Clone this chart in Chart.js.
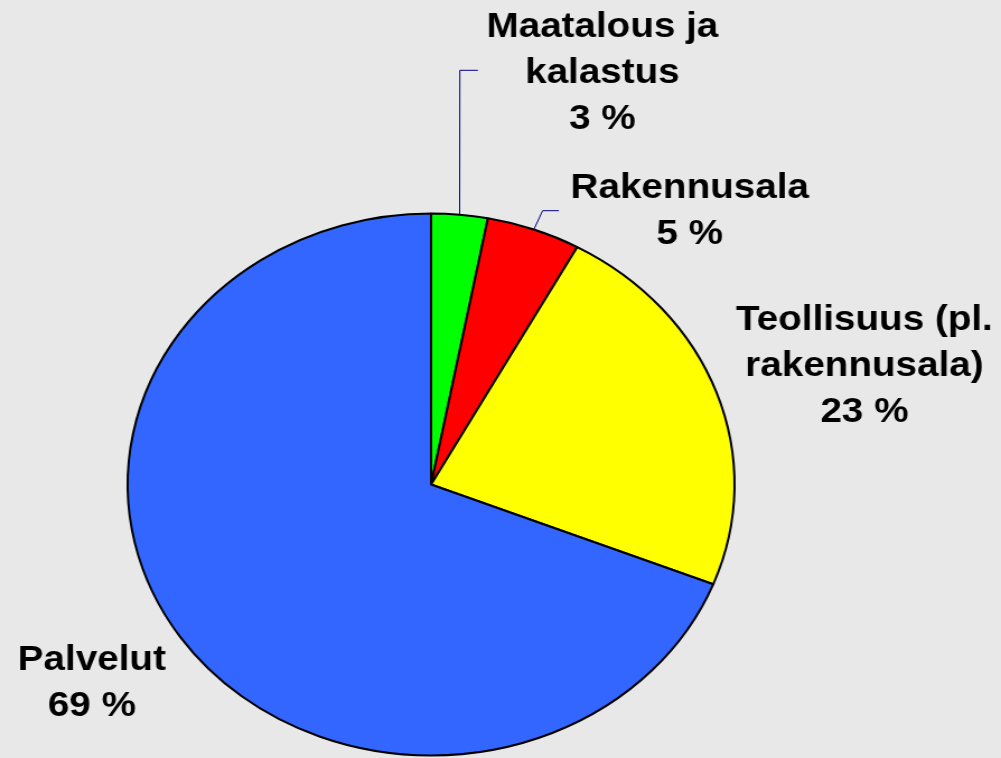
<!DOCTYPE html>
<html>
<head>
<meta charset="utf-8">
<script src="https://cdn.jsdelivr.net/npm/chart.js@4.4.0/dist/chart.umd.min.js"></script>
<style>
html, body { margin: 0; padding: 0; background: #e8e8e8; overflow: hidden; }
#wrap { width: 894px; height: 758px; transform: scaleX(1.1197); transform-origin: 0 0; }
</style>
</head>
<body>
<div id="wrap"><canvas id="pieChart" width="894" height="758"></canvas></div>
<script>
// data
var sectorNames = [["Maatalous ja", "kalastus"], ["Rakennusala"], ["Teollisuus (pl.", "rakennusala)"], ["Palvelut"]];
var sectorShares = [3, 5, 23, 69];
var sectorColors = ['#00ff00', '#ff0000', '#ffff00', '#3366ff'];

// where the labels go (canvas is stretched sideways afterwards)
var labelSpots = [
    { x: 538, y: 27, elbow: [410.7, 70.3, 426.8] },
    { x: 616, y: 188, elbow: [484.6, 210.7, 499.1] },
    { x: 772, y: 320 },
    { x: 82, y: 660 }
];

var labelPlugin = {
    id: 'sectorLabels',
    afterDatasetsDraw: function (chart) {
        var ctx = chart.ctx;
        var arcs = chart.getDatasetMeta(0).data;
        ctx.save();
        arcs.forEach(function (arc, i) {
            var spot = labelSpots[i];
            if (spot.elbow) {
                //leader line from the middle of the slice edge
                var mid = (arc.startAngle + arc.endAngle) / 2;
                var sx = arc.x + Math.cos(mid) * arc.outerRadius;
                var sy = arc.y + Math.sin(mid) * arc.outerRadius;
                ctx.beginPath();
                ctx.moveTo(sx, sy);
                ctx.lineTo(spot.elbow[0], spot.elbow[1]);
                ctx.lineTo(spot.elbow[2], spot.elbow[1]);
                ctx.strokeStyle = '#000080';
                ctx.lineWidth = 1;
                ctx.stroke();
            }
            var lines = sectorNames[i].concat([sectorShares[i] + ' %']);
            ctx.font = 'bold 34.5px "Liberation Sans", Arial, sans-serif';
            ctx.fillStyle = '#000000';
            ctx.textAlign = 'center';
            ctx.textBaseline = 'middle';
            lines.forEach(function (t, k) {
                ctx.fillText(t, spot.x, spot.y + k * 46);
            });
        });
        ctx.restore();
    }
};

const ctx = document.getElementById("pieChart");
var sectorChart = new Chart(ctx, {
    type: 'pie',
    data: {
        labels: sectorNames.map(function (n) { return n.join(' '); }),
        datasets: [{
            data: sectorShares,
            backgroundColor: sectorColors,
            borderColor: '#000000',
            borderWidth: 2
        }]
    },
    options: {
        responsive: false,
        animation: false,
        radius: 271,
        layout: { padding: { left: 0, right: 124, top: 211, bottom: 0 } },
        plugins: {
            legend: { display: false },
            tooltip: { enabled: false }
        }
    },
    plugins: [labelPlugin]
});
</script>
</body>
</html>
